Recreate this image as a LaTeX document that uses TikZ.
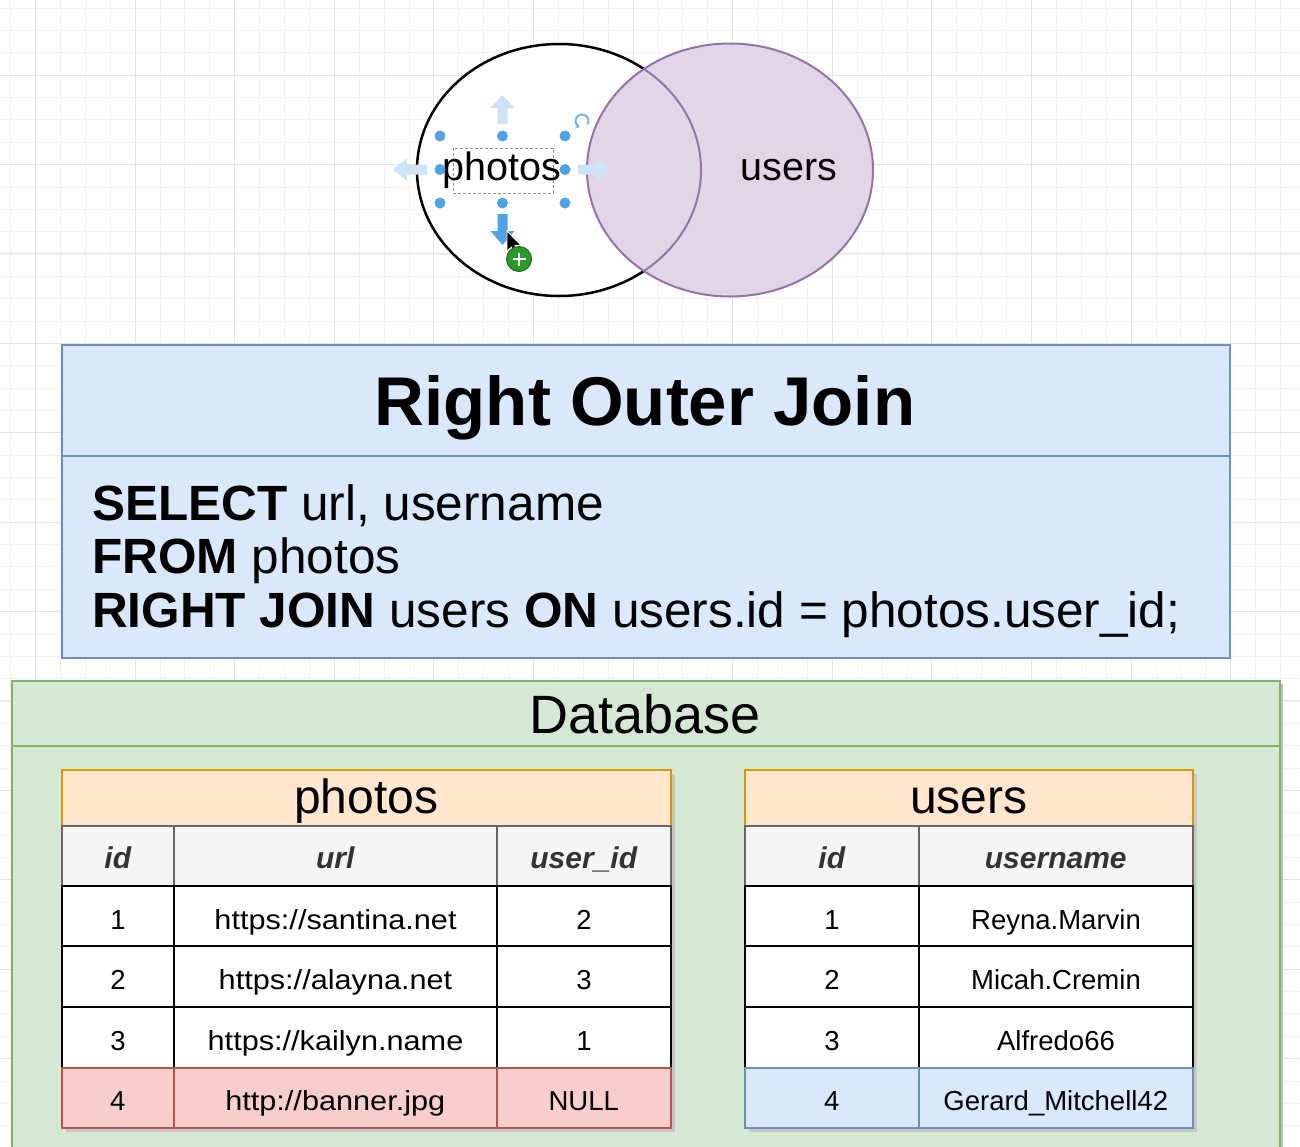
\documentclass[tikz,border=0pt]{standalone}
\usepackage{fontspec}
\setmainfont{Liberation Sans}
\usetikzlibrary{shapes.geometric,arrows.meta}
\definecolor{bluefill}{HTML}{DAE8FC}
\definecolor{bluedraw}{HTML}{6C8EBF}
\definecolor{greenfill}{HTML}{D5E8D4}
\definecolor{greendraw}{HTML}{82B366}
\definecolor{orangefill}{HTML}{FFE6CC}
\definecolor{orangedraw}{HTML}{D79B00}
\definecolor{redfill}{HTML}{F8CECC}
\definecolor{reddraw}{HTML}{B85450}
\definecolor{purplefill}{HTML}{E1D5E7}
\definecolor{purpledraw}{HTML}{9673A6}
\definecolor{headfill}{HTML}{F5F5F5}
\definecolor{headdraw}{HTML}{666666}
\definecolor{headtext}{HTML}{333333}
\definecolor{handle}{HTML}{4DA3E8}
\definecolor{lightarrow}{HTML}{CDE3F7}
\definecolor{plusgreen}{HTML}{2A9A2A}
\definecolor{gridminor}{HTML}{F2F2F2}
\definecolor{gridmajor}{HTML}{E4E4E4}
\newcommand\wideurl[1]{\scalebox{1.115}[1]{#1}}
\begin{document}
\begin{tikzpicture}[x=1pt,y=-1pt,
  cell/.style={draw=black, line width=2pt, fill=white, inner sep=0pt, anchor=north west,
    text height=26pt, text depth=0pt, font=\fontsize{27.5}{33}\selectfont},
  colhead/.style={cell, draw=headdraw, fill=headfill, line width=1.5pt, text=headtext,
    font=\bfseries\itshape\fontsize{30}{36}\selectfont},
  tabtitle/.style={cell, draw=orangedraw, fill=orangefill, line width=1.5pt, text height=32pt,
    font=\fontsize{48}{56}\selectfont},
  redcell/.style={cell, draw=reddraw, fill=redfill, line width=1.5pt},
  bluecell/.style={cell, draw=bluedraw, fill=bluefill, line width=1.5pt},
  dot/.style={circle, fill=handle, inner sep=0pt, minimum size=11pt},
  sqlline/.style={anchor=base west, inner sep=0pt, font=\fontsize{49.5}{56}\selectfont},
]
\useasboundingbox (0,0) rectangle (1300,1146);
\fill[white] (0,0) rectangle (1300,1146);
% grid
\foreach \i in {0,...,52} \draw[gridminor, line width=0.8pt] ({10.5+24.9*\i},0) -- ({10.5+24.9*\i},1146);
\foreach \j in {0,...,51} \draw[gridminor, line width=0.8pt] (0,{8.1+22.35*\j}) -- (1300,{8.1+22.35*\j});
\foreach \i in {0,...,12} \draw[gridmajor, line width=1pt] ({35.4+99.6*\i},0) -- ({35.4+99.6*\i},1146);
\foreach \j in {0,...,12} \draw[gridmajor, line width=1pt] (0,{75.15+89.4*\j}) -- (1300,{75.15+89.4*\j});

% ---------- Venn ----------
\node[ellipse, draw=black, line width=2.5pt, fill=white, inner sep=0pt,
      minimum width=284pt, minimum height=252pt] (photosset) at (559,170) {};
\node[ellipse, draw=purpledraw, line width=2pt, fill=purplefill, inner sep=0pt,
      minimum width=286pt, minimum height=253pt] (usersset) at (730,170) {};
\begin{scope}
  \clip (usersset.center) ellipse [x radius=143pt, y radius=126.5pt];
  \draw[purpledraw, line width=2pt] (photosset.center) ellipse [x radius=142pt, y radius=126pt];
\end{scope}
\node[inner sep=0pt, font=\fontsize{39.5}{46}\selectfont] (userslabel) at (789,170) {users};

% selection UI
\draw[black!45, line width=0.8pt, dash pattern=on 3pt off 2pt] (453,148) rectangle (553,193);
\fill[lightarrow] (497.5,124) -- (497.5,108) -- (490.5,108) -- (502.5,95) -- (514.5,108) -- (507.5,108) -- (507.5,124) -- cycle;
\fill[lightarrow] (427,164.5) -- (407,164.5) -- (407,158) -- (393,169.5) -- (407,181) -- (407,174.5) -- (427,174.5) -- cycle;
\fill[lightarrow] (578,164.5) -- (597,164.5) -- (597,158) -- (611,169.5) -- (597,181) -- (597,174.5) -- (578,174.5) -- cycle;
\node[inner sep=0pt, font=\fontsize{39.5}{46}\selectfont] (photoslabel) at (502,170) {photos};
\foreach \p/\n in {{(440,136)}/a,{(502.5,136)}/b,{(565,136)}/c,{(440,169.5)}/d,{(565,169.5)}/e,{(440,203)}/f,{(502.5,203)}/g,{(565,203)}/h}
  \node[dot] (hd\n) at \p {};
\fill[handle] (497.5,214) -- (497.5,231) -- (490.5,231) -- (502.5,245) -- (514.5,231) -- (507.5,231) -- (507.5,214) -- cycle;
\coordinate (rot) at (582,121);
\draw[handle!80, line width=2pt, -{Stealth[length=4pt,width=6pt]}] ([shift={(-30:6.5pt)}]rot) arc[start angle=-30, end angle=250, radius=6.5pt];
% cursor
\filldraw[fill=black, draw=white, line width=0.8pt] (507,231) -- (507,251) -- (511.5,247) -- (514.5,254) -- (518,252.5) -- (515,245.5) -- (521,245.5) -- cycle;
\node[circle, fill=plusgreen, draw=plusgreen!70!black, line width=1pt, inner sep=0pt, minimum size=25pt] (plus) at (519,259) {};
\draw[white, line width=2.8pt] (plus.center) ++(-6.5,0) -- ++(13,0) (plus.center) ++(0,-6.5) -- ++(0,13);

% ---------- SQL box ----------
\node[draw=bluedraw, fill=bluefill, line width=2pt, inner sep=0pt, anchor=north west,
      minimum width=1168pt, minimum height=313pt] (sqlbox) at (61,344) {};
\draw[bluedraw, line width=2pt] (sqlbox.west |- 0,456) -- (sqlbox.east |- 0,456);
\node[anchor=base, inner sep=0pt, font=\bfseries\fontsize{69}{80}\selectfont] (title) at (645,425) {Right Outer Join};
\node[sqlline] (sql1) at (92,520) {\textbf{SELECT} url, username};
\node[sqlline] (sql2) at (92,573) {\textbf{FROM} photos};
\node[sqlline] (sql3) at (92,627) {\textbf{RIGHT JOIN} users \textbf{ON} users.id = photos.user\_id;};

% ---------- Database box ----------
\fill[black!25] (1279,684) rectangle (1283,1160);
\node[draw=greendraw, fill=greenfill, line width=2pt, inner sep=0pt, anchor=north west,
      minimum width=1268pt, minimum height=480pt] (dbbox) at (11,680) {};
\draw[greendraw, line width=2pt] (dbbox.west |- 0,746) -- (dbbox.east |- 0,746);
\node[anchor=base, inner sep=0pt, font=\fontsize{54}{62}\selectfont] (dbtitle) at (645,733) {Database};

% shadows
\fill[black!22] (66,774) rectangle (675,1132);
\fill[black!22] (749,774) rectangle (1197,1132);

% photos table
\node[tabtitle, minimum width=609pt, minimum height=56pt] (ptitle) at (61,769) {photos};
\node[colhead, minimum width=112pt, minimum height=60pt] (pid) at (61,825) {id};
\node[colhead, minimum width=323pt, minimum height=60pt] (purl) at (173,825) {url};
\node[colhead, minimum width=174pt, minimum height=60pt] (puid) at (496,825) {user\_id};

\node[cell, minimum width=112pt, minimum height=60pt] (p1a) at (61,885) {1};
\node[cell, minimum width=323pt, minimum height=60pt] (p1b) at (173,885) {\wideurl{https://santina.net}};
\node[cell, minimum width=174pt, minimum height=60pt] (p1c) at (496,885) {2};
\node[cell, minimum width=112pt, minimum height=61pt] (p2a) at (61,945) {2};
\node[cell, minimum width=323pt, minimum height=61pt] (p2b) at (173,945) {\wideurl{https://alayna.net}};
\node[cell, minimum width=174pt, minimum height=61pt] (p2c) at (496,945) {3};
\node[cell, minimum width=112pt, minimum height=61pt] (p3a) at (61,1006) {3};
\node[cell, minimum width=323pt, minimum height=61pt] (p3b) at (173,1006) {\wideurl{https://kailyn.name}};
\node[cell, minimum width=174pt, minimum height=61pt] (p3c) at (496,1006) {1};
\node[redcell, minimum width=112pt, minimum height=60pt] (p4a) at (61,1067) {4};
\node[redcell, minimum width=323pt, minimum height=60pt] (p4b) at (173,1067) {\wideurl{http://banner.jpg}};
\node[redcell, minimum width=174pt, minimum height=60pt] (p4c) at (496,1067) {NULL};

% users table
\node[tabtitle, minimum width=448pt, minimum height=56pt] (utitle) at (744,769) {users};
\node[colhead, minimum width=174pt, minimum height=60pt] (uid) at (744,825) {id};
\node[colhead, minimum width=274pt, minimum height=60pt] (uname) at (918,825) {username};

\node[cell, minimum width=174pt, minimum height=60pt] (u1a) at (744,885) {1};
\node[cell, minimum width=274pt, minimum height=60pt] (u1b) at (918,885) {Reyna.Marvin};
\node[cell, minimum width=174pt, minimum height=61pt] (u2a) at (744,945) {2};
\node[cell, minimum width=274pt, minimum height=61pt] (u2b) at (918,945) {Micah.Cremin};
\node[cell, minimum width=174pt, minimum height=61pt] (u3a) at (744,1006) {3};
\node[cell, minimum width=274pt, minimum height=61pt] (u3b) at (918,1006) {Alfredo66};
\node[bluecell, minimum width=174pt, minimum height=60pt] (u4a) at (744,1067) {4};
\node[bluecell, minimum width=274pt, minimum height=60pt] (u4b) at (918,1067) {Gerard\_Mitchell42};
\end{tikzpicture}
\end{document}
